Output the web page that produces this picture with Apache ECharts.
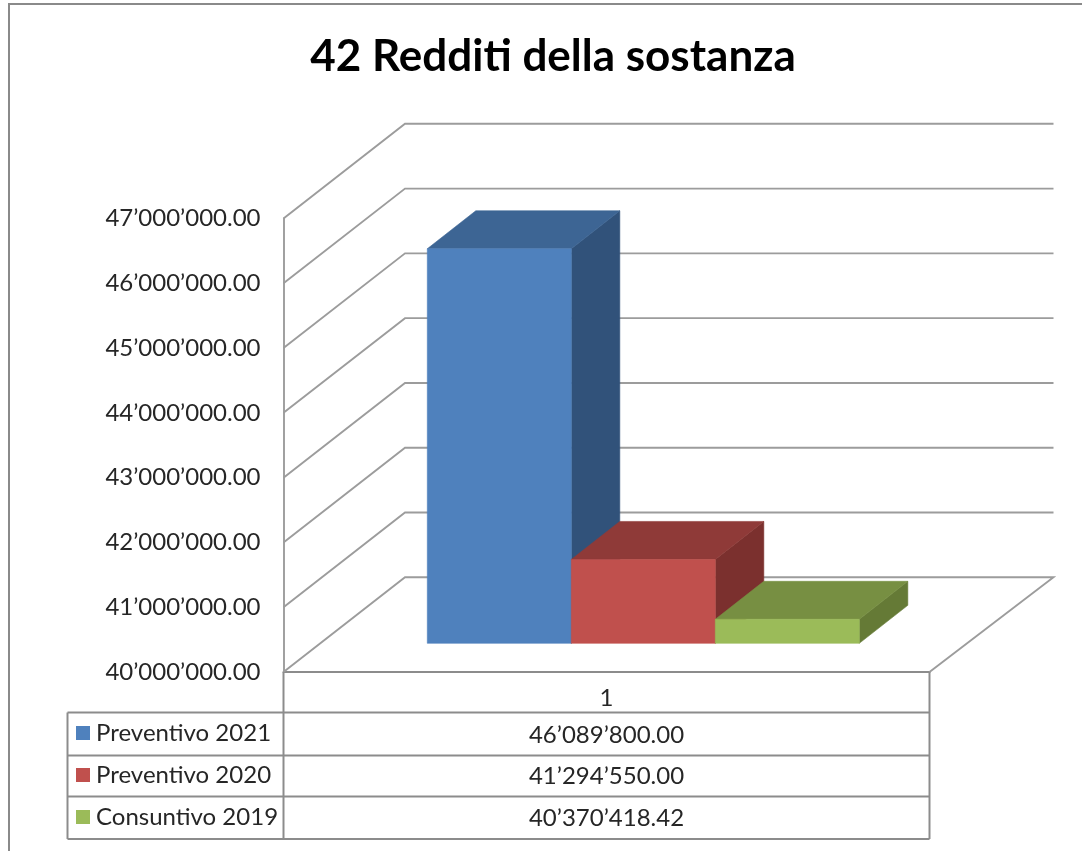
<!DOCTYPE html>
<html>
<head>
<meta charset="utf-8">
<style>html,body{margin:0;padding:0;background:#fff}#c{width:1082px;height:851px}</style>
<script src="https://cdn.jsdelivr.net/npm/echarts@6/dist/echarts.min.js"></script>
</head>
<body>
<div id="c"></div>
<script>
var chartTitle = '42 Redditi della sostanza';
var categories = ['1'];
var seriesNames = ['Preventivo 2021', 'Preventivo 2020', 'Consuntivo 2019'];
var preventivo2021 = [46089800.00];
var preventivo2020 = [41294550.00];
var consuntivo2019 = [40370418.42];
var yTicks = [40000000, 41000000, 42000000, 43000000, 44000000, 45000000, 46000000, 47000000];
var yTickLabels = ['40’000’000.00', '41’000’000.00', '42’000’000.00', '43’000’000.00', '44’000’000.00', '45’000’000.00', '46’000’000.00', '47’000’000.00'];
var tableTexts = ['46’089’800.00', '41’294’550.00', '40’370’418.42'];
var faceColors = [
  {front: '#4F81BD', top: '#3D6594', side: '#31527A'},
  {front: '#C0504D', top: '#8F3A38', side: '#7B302E'},
  {front: '#9BBB59', top: '#778F42', side: '#657A36'}
];

var FONT = 'Lato';
var FONT_SIZE = 24;
var WALL = '#9c9c9c', TABLE = '#8c8c8c', TEXT = '#262626';
var BACK = {x: 121.5, y: -94.7};    // front edge of floor -> back wall
var INSET = {x: 36.8, y: -28.7};    // front edge of floor -> front of bars
var DEPTH = {x: 48.5, y: -38};      // bar depth
var BAR_W = 144;
var ROWS = [712.5, 755.5, 796.5, 839];
var TABLE_LEFT = 67.5;
var VALUE_COL_Y = [735, 776.5, 818];

var lineStyle = function (c, w) { return {stroke: c, lineWidth: w, fill: null, lineJoin: 'miter'}; };

function wallItem(params, api) {
  var p = api.coord([0, api.value(0)]);
  var w = api.size([1, 0])[0];
  var x0 = p[0] - w / 2;
  var backRight = x0 + w + BACK.x + 2.5;
  var pts = [[x0, p[1]], [x0 + BACK.x, p[1] + BACK.y], [backRight, p[1] + BACK.y]];
  if (params.dataIndex === 0) { pts.push([x0 + w, p[1]]); }
  return {type: 'polyline', shape: {points: pts}, style: lineStyle(WALL, 1.9), silent: true};
}

function face(c) { return {fill: c, stroke: c, lineWidth: 0.6}; }

function barItem(colors) {
  return function (params, api) {
    var idx = params.seriesIndex - 1;
    var base = api.coord([api.value(0), yTicks[0]]);
    var top = api.coord([api.value(0), api.value(1)]);
    var l = base[0] - 3 * BAR_W / 2 + idx * BAR_W + INSET.x;
    var r = l + BAR_W;
    var b = base[1] + INSET.y;
    var t = top[1] + INSET.y;
    var dx = DEPTH.x, dy = DEPTH.y;
    return {type: 'group', children: [
      {type: 'polygon', shape: {points: [[r, t], [r + dx, t + dy], [r + dx, b + dy], [r, b]]}, style: face(colors.side)},
      {type: 'polygon', shape: {points: [[l, t], [l + dx, t + dy], [r + dx, t + dy], [r, t]]}, style: face(colors.top)},
      {type: 'rect', shape: {x: l, y: t, width: BAR_W, height: b - t}, style: face(colors.front)}
    ]};
  };
}

function tableItem(params, api) {
  var c = api.coord([0, yTicks[0]]);
  var w = api.size([1, 0])[0];
  var x0 = c[0] - w / 2, x1 = c[0] + w / 2;
  var kids = [];
  ROWS.forEach(function (y) {
    kids.push({type: 'line', shape: {x1: TABLE_LEFT, y1: y, x2: x1, y2: y}, style: lineStyle(TABLE, 2)});
  });
  kids.push({type: 'line', shape: {x1: TABLE_LEFT, y1: ROWS[0], x2: TABLE_LEFT, y2: ROWS[3]}, style: lineStyle(TABLE, 2)});
  kids.push({type: 'line', shape: {x1: x0, y1: c[1], x2: x0, y2: ROWS[3]}, style: lineStyle(TABLE, 2)});
  kids.push({type: 'line', shape: {x1: x1, y1: c[1], x2: x1, y2: ROWS[3]}, style: lineStyle(TABLE, 2)});
  tableTexts.forEach(function (s, i) {
    kids.push({type: 'text', style: {text: s, x: c[0], y: VALUE_COL_Y[i], align: 'center', verticalAlign: 'middle',
      fill: TEXT, font: FONT_SIZE + 'px ' + FONT}});
  });
  return {type: 'group', children: kids};
}

var barData = [preventivo2021, preventivo2020, consuntivo2019];

var option = {
  animation: false,
  backgroundColor: '#fff',
  title: {
    text: chartTitle, left: 548, top: 30, textAlign: 'center',
    textStyle: {fontFamily: FONT, fontWeight: 'bold', fontSize: 44, color: '#000'}
  },
  legend: {
    data: seriesNames, orient: 'vertical', left: 76, top: 721, padding: 0,
    itemWidth: 14, itemHeight: 14, itemGap: 18, icon: 'rect', selectedMode: false,
    textStyle: {fontFamily: FONT, fontSize: FONT_SIZE, color: TEXT, padding: [0, 0, 0, 1]}
  },
  grid: {left: 283.5, top: 218.5, width: 646, height: 453.5, containLabel: false},
  xAxis: {
    type: 'category', data: categories,
    axisLine: {show: true, lineStyle: {color: TABLE, width: 2}},
    axisTick: {show: false},
    axisLabel: {fontFamily: FONT, fontSize: FONT_SIZE, color: TEXT, margin: 14}
  },
  yAxis: {
    type: 'value', min: yTicks[0], max: yTicks[yTicks.length - 1], interval: 1000000,
    splitLine: {show: false},
    axisLine: {show: true, lineStyle: {color: WALL, width: 1.9}},
    axisTick: {show: false},
    axisLabel: {
      fontFamily: FONT, fontSize: FONT_SIZE, color: TEXT, margin: 23, padding: [3, 0, 0, 0],
      formatter: function (v) { return yTickLabels[yTicks.indexOf(v)]; }
    }
  },
  graphic: [{
    type: 'polyline', shape: {points: [[1082, 4], [9, 4], [9, 851]]},
    style: {stroke: '#8a8a8a', lineWidth: 2, fill: null}, silent: true, z: 0
  }],
  series: [{
    type: 'custom', name: 'wall', data: yTicks.map(function (v) { return [v]; }),
    coordinateSystem: 'cartesian2d', encode: {y: 0}, renderItem: wallItem, silent: true, z: 1
  }].concat(seriesNames.map(function (name, i) {
    return {
      type: 'custom', name: name, coordinateSystem: 'cartesian2d',
      itemStyle: {color: faceColors[i].front},
      data: categories.map(function (c, k) { return [c, barData[i][k]]; }),
      encode: {x: 0, y: 1}, renderItem: barItem(faceColors[i]), silent: true, z: 2
    };
  })).concat([{
    type: 'custom', name: 'table', data: [[0]], coordinateSystem: 'cartesian2d',
    renderItem: tableItem, silent: true, z: 3
  }])
};
var chart = echarts.init(document.getElementById('c'), null, {renderer: 'canvas'});
chart.setOption(option);
</script>
</body>
</html>
